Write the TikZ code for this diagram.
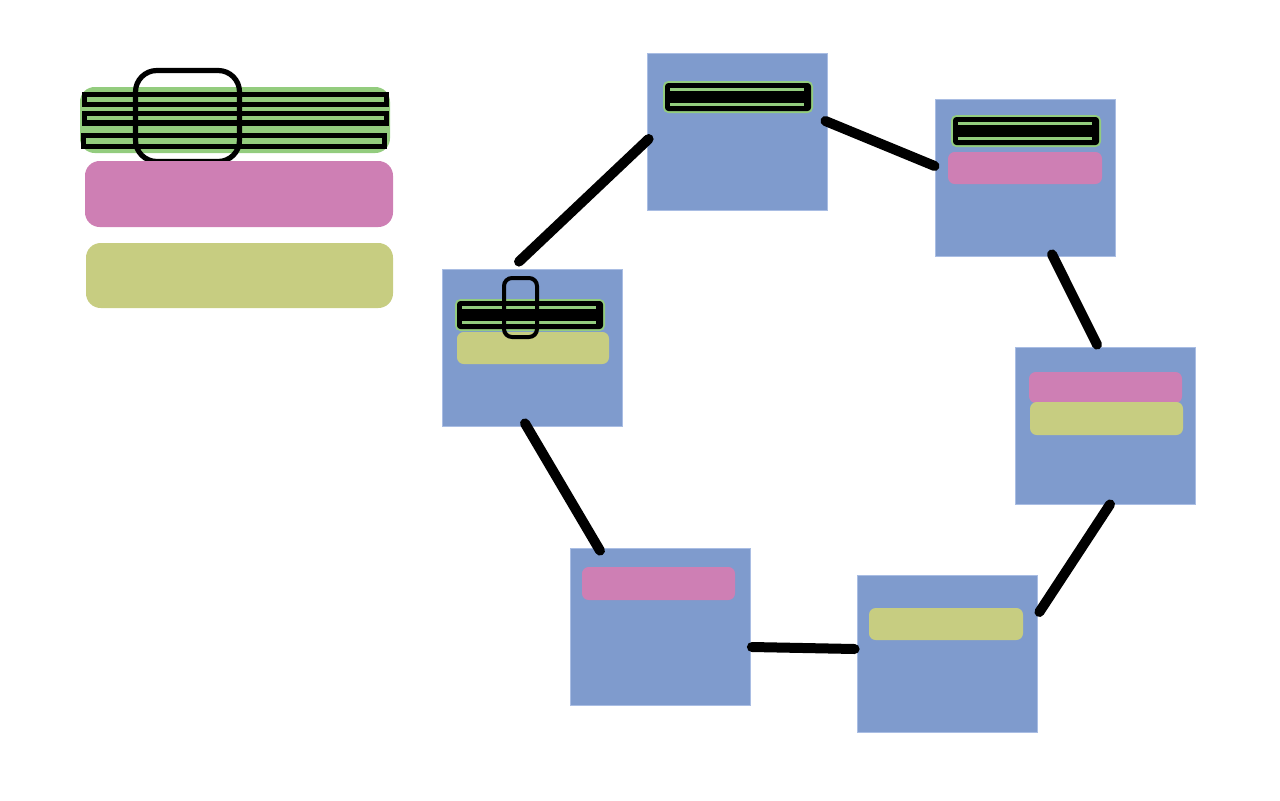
\documentclass[tikz,border=0pt]{standalone}
\usetikzlibrary{calc}
\definecolor{blueC}{HTML}{7F9BCD}
\definecolor{blueE}{HTML}{A9BDE3}
\definecolor{pinkC}{HTML}{CE7FB4}
\definecolor{oliveC}{HTML}{C7CD81}
\definecolor{greenC}{HTML}{93CC7E}
\tikzset{
  bluebox/.style={rectangle, fill=blueC, draw=blueE, line width=0.6pt, minimum width=135pt, minimum height=117.75pt, inner sep=0pt},
  conn/.style={line width=7.5pt, line cap=round, black},
  pinkbar/.style={fill=pinkC, rounded corners=5pt},
  olivebar/.style={fill=oliveC, rounded corners=5pt},
  stripe/.style={draw=black, fill=greenC, line width=4.2pt},
  clipring/.style={draw=black, line width=3.9pt},
  stripebar/.pic={
    \fill[greenC, rounded corners=4pt] (0,0) rectangle (150,32);
    \fill[black, rounded corners=2.5pt] (2,2) rectangle (148,30);
    \fill[greenC] (7,6.5) rectangle (141,9.5);
    \fill[greenC] (7,21.5) rectangle (141,24.5);
  }
}
\begin{document}
\begin{tikzpicture}[x=0.75pt, y=-0.75pt]
\useasboundingbox (0,0) rectangle (1280,800);

% legend
\fill[greenC, rounded corners=11pt] (80,87) rectangle (390,153);
\draw[stripe] (84.5,94.5) rectangle (386.5,104.5);
\draw[stripe] (84.5,113.5) rectangle (386.5,123);
\draw[stripe] (83.5,135.5) rectangle (384.5,146.5);
\draw[clipring, rounded corners=16pt] (135.5,70.5) rectangle (239.5,161.5);
\fill[pinkC, rounded corners=11pt] (85,161) rectangle (393,227);
\fill[oliveC, rounded corners=11pt] (86,243) rectangle (393,308);

% boxes
\node[bluebox] (b1) at (737,131.5) {};
\node[bluebox] (b2) at (1025,177.5) {};
\node[bluebox] (b3) at (1105,425.5) {};
\node[bluebox] (b4) at (947,653.5) {};
\node[bluebox] (b5) at (660.5,626.5) {};
\node[bluebox] (b6) at (532,347.5) {};

% contents
\pic at (663,81) {stripebar};
\pic at (951,115) {stripebar};
\fill[pinkbar] (948,152) rectangle (1102,184);
\fill[pinkbar] (1029,372) rectangle (1182,403);
\fill[olivebar] (1030,402) rectangle (1183,435);
\fill[olivebar] (869,608) rectangle (1023,640);
\fill[pinkbar] (582,567) rectangle (735,600);
\fill[olivebar] (457,332) rectangle (609,364);
\pic at (455,299) {stripebar};
\draw[clipring, line width=3pt, rounded corners=6pt] (504,278) rectangle (537,337);

% connectors
\draw[conn] ($(b6.north)+(-13,-7)$) -- ($(b1.west)+(2,7.5)$);
\draw[conn] ($(b1.east)+(-2,-10.5)$) -- ($(b2.west)+(0,-11.5)$);
\draw[conn] ($(b2.south)+(27,-2)$) -- ($(b3.north)+(-8,-2)$);
\draw[conn] ($(b3.south)+(5,0)$) -- ($(b4.east)+(2,-41.5)$);
\draw[conn] ($(b4.west)+(-2,-4.5)$) -- ($(b5.east)+(1,20.5)$);
\draw[conn] ($(b5.north)+(-60.5,3)$) -- ($(b6.south)+(-7,-3)$);
\end{tikzpicture}
\end{document}
